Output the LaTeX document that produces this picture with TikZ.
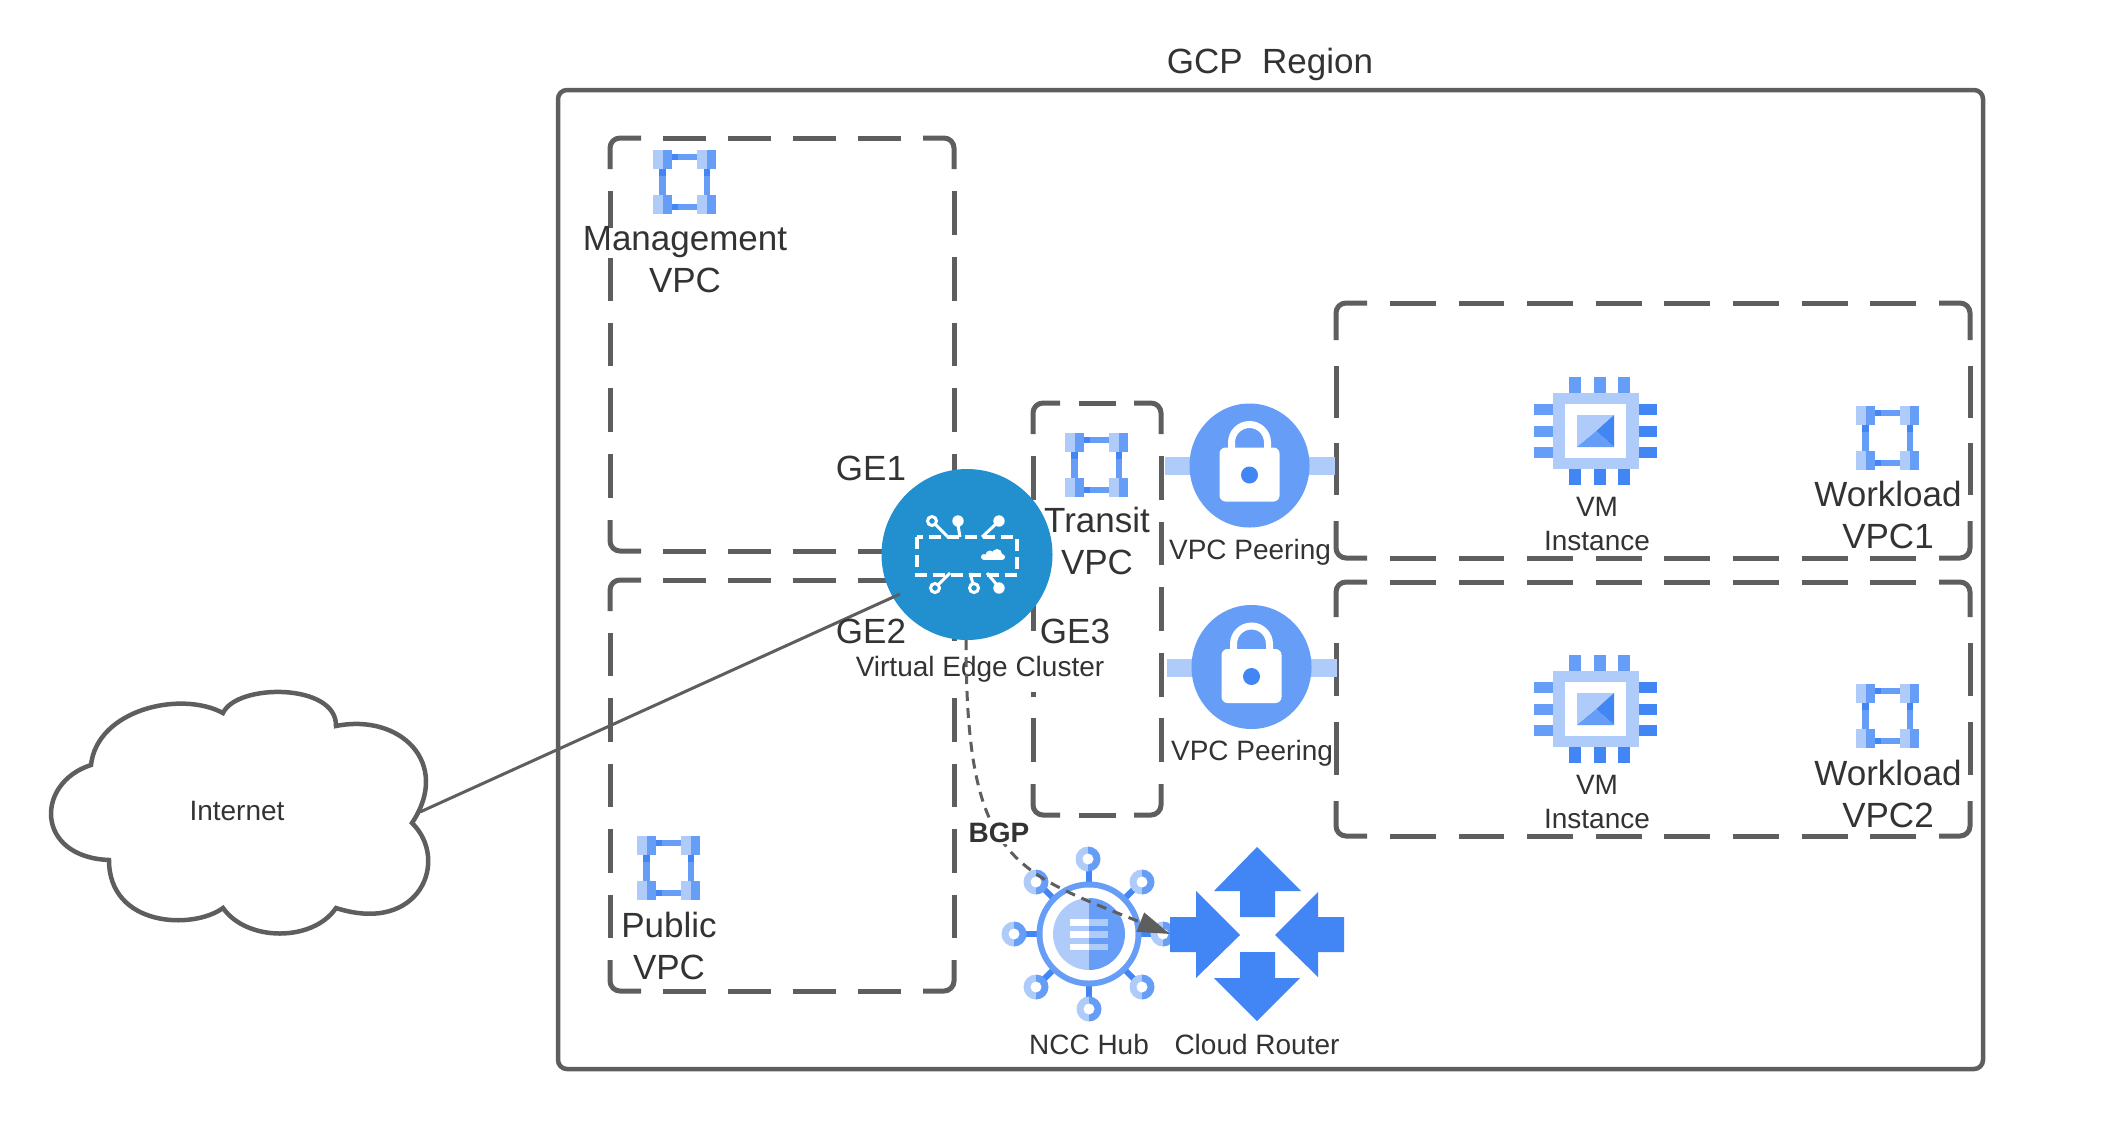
\documentclass[tikz,border=0pt]{standalone}
\usepackage{fontspec}
\setmainfont{Liberation Sans}
\usetikzlibrary{arrows.meta}
\definecolor{ln}{HTML}{5E5E5E}
\definecolor{tx}{HTML}{333333}
\definecolor{gl}{HTML}{AECBFA}
\definecolor{gm}{HTML}{669DF6}
\definecolor{gd}{HTML}{4285F4}
\definecolor{clu}{HTML}{228FCF}
\tikzset{
  x=1pt,y=-1pt,
  bline/.style={draw=ln,line width=5pt,line cap=butt},
  big/.style={text=tx,align=center,inner sep=0pt,font=\fontsize{35}{42}\selectfont},
  small/.style={text=tx,align=center,inner sep=0pt,font=\fontsize{28}{34}\selectfont},
  pics/vpcicon/.style={code={
    \fill[gm] (-19,-28) rectangle (19,-22);
    \fill[gm] (-19,22) rectangle (19,28);
    \fill[gm] (-26,-13) rectangle (-19,13);
    \fill[gm] (19,-13) rectangle (25,13);
    \fill[gd] (-13,-28) rectangle (-7,-22);
    \fill[gd] (-13,22) rectangle (-7,28);
    \fill[gd] (-26,-13) rectangle (-19,-6);
    \fill[gd] (19,-13) rectangle (25,-6);
    \foreach \px/\py in {-32/-32,12/-32,-32/13,12/13}{
      \fill[gl] (\px,\py) rectangle ++(10,19);
      \fill[gm] (\px+10,\py) rectangle ++(9,19);
    }
  }},
  pics/vmicon/.style={code={
    \foreach \px in {-27,-2,22}{
      \fill[gm] (\px,-54) rectangle ++(12,16);
      \fill[gd] (\px,38) rectangle ++(12,16);
    }
    \foreach \py in {-27,-5,16}{
      \fill[gm] (-62,\py) rectangle ++(19,11);
      \fill[gd] (43,\py) rectangle ++(18,11);
    }
    \fill[gl] (-43,-38) rectangle (43,38);
    \fill[white] (-31,-27) rectangle (30,27);
    \fill[gl] (-19,-16) -- (18,-16) -- (-19,16) -- cycle;
    \fill[gd] (18,-16) -- (18,16) -- (0,0) -- cycle;
    \fill[gm] (-19,16) -- (18,16) -- (0,0) -- cycle;
  }},
  pics/lockicon/.style={code={
    \fill[gl] (-85,-8.5) rectangle (-40,9.5);
    \fill[gl] (40,-8.5) rectangle (85.5,9.5);
    \fill[gm] (0,0) ellipse[x radius=60,y radius=62];
    \draw[white,line width=7pt] (-18,-16) -- (-18,-23) .. controls (-18,-33) and (-10,-41) .. (0,-41) .. controls (10,-41) and (18,-33) .. (18,-23) -- (18,-16);
    \fill[white,rounded corners=6pt] (-30,-18) rectangle (30,36);
    \fill[gd] (0,9.5) circle[radius=8.5];
  }},
  pics/sat/.style={code={
    \begin{scope}
      \clip (-14,-14) rectangle (0,14);
      \fill[gl] (0,0) circle[radius=12.5];
    \end{scope}
    \begin{scope}
      \clip (0,-14) rectangle (14,14);
      \fill[gm] (0,0) circle[radius=12.5];
    \end{scope}
    \fill[white] (0,0) circle[radius=5.5];
  }}
}
% x0,y0,x1,y1, corner run along x, dashes along x, corner run along y, dashes along y
\newcommand{\vpcbox}[8]{%
  \pgfmathsetmacro{\myhd}{(#3-#1-2*#5)/(1.5*#6+0.5)}%
  \pgfmathsetmacro{\myhg}{\myhd/2}%
  \pgfmathsetmacro{\myvd}{(#4-#2-2*#7)/(1.5*#8+0.5)}%
  \pgfmathsetmacro{\myvg}{\myvd/2}%
  \begin{scope}[rounded corners=10pt]
    \draw[bline] (#1,#2+#7) -- (#1,#2) -- (#1+#5,#2);
    \draw[bline] (#3-#5,#2) -- (#3,#2) -- (#3,#2+#7);
    \draw[bline] (#1,#4-#7) -- (#1,#4) -- (#1+#5,#4);
    \draw[bline] (#3-#5,#4) -- (#3,#4) -- (#3,#4-#7);
  \end{scope}
  \draw[bline,dash pattern=on \myhd pt off \myhg pt] (#1+#5+\myhg,#2) -- (#3-#5-\myhg,#2);
  \draw[bline,dash pattern=on \myhd pt off \myhg pt] (#1+#5+\myhg,#4) -- (#3-#5-\myhg,#4);
  \draw[bline,dash pattern=on \myvd pt off \myvg pt] (#1,#2+#7+\myvg) -- (#1,#4-#7-\myvg);
  \draw[bline,dash pattern=on \myvd pt off \myvg pt] (#3,#2+#7+\myvg) -- (#3,#4-#7-\myvg);
}
\begin{document}
\begin{tikzpicture}
\path[use as bounding box,fill=white] (0,0) rectangle (2122,1128);

% boxes
\draw[ln,line width=4.5pt,rounded corners=9pt] (558,90) rectangle (1983,1069);
\vpcbox{610}{138}{954}{551}{31}{4}{31}{5}
\vpcbox{610}{580}{954}{991}{31}{4}{31}{5}
\vpcbox{1033}{403}{1161}{815}{27}{1}{31}{5}
\vpcbox{1336}{303}{1970}{558}{31}{8}{37}{2}
\vpcbox{1336}{582}{1970}{836}{31}{8}{35}{2}

% cloud
\draw[ln,line width=4.5pt,fill=white,line join=miter]
  (91,765) .. controls (97,710) and (180,690) .. (223,713)
  .. controls (237,683) and (337,683) .. (336,726)
  .. controls (400,713) and (452,763) .. (412,823)
  .. controls (450,860) and (420,935) .. (336,908)
  .. controls (313,942) and (247,942) .. (223,908)
  .. controls (193,930) and (109,927) .. (109,860)
  .. controls (35,857) and (35,783) .. (91,765) -- cycle;
\node[small] (internet) at (237,811) {Internet};
\coordinate (cloudport) at (420,812);

% cluster
\node[circle,fill=clu,minimum size=171pt,inner sep=0pt] (cluster) at (967,554.5) {};
\coordinate (clusterport) at (900,594);
\draw[ln,line width=3pt] (cloudport) -- (clusterport);

\begin{scope}[white,line width=3pt]
  \draw[line width=3.6pt,dash pattern=on 12pt off 6pt] (917,537) rectangle (1017,575);
  \draw (948,537) -- (934,523);
  \draw (960,537) -- (958,525);
  \draw (982,537) -- (997,523);
  \draw (950,573) -- (938,585);
  \draw (970,573) -- (973,584);
  \draw (987,573) -- (997,585);
  \draw[fill=clu] (932,521) circle[radius=4.5];
  \fill (958,521) circle[radius=5.7];
  \fill (999,521) circle[radius=5.7];
  \draw[fill=clu] (935,588) circle[radius=4.5];
  \draw[fill=clu] (974,588) circle[radius=4.5];
  \fill (999,588) circle[radius=5.7];
  \fill (984,557) circle[radius=3];
  \fill (990,555) circle[radius=4.5];
  \fill (997,554) circle[radius=5];
  \fill (1002,557) circle[radius=3];
  \fill (984,555) rectangle (1002,560);
\end{scope}

% vpc icons
\pic at (684.5,182) {vpcicon};
\pic at (1097,465) {vpcicon};
\pic at (1888,437.5) {vpcicon};
\pic at (1888,716) {vpcicon};
\pic at (669,867.5) {vpcicon};
% vm icons
\pic at (1596,431) {vmicon};
\pic at (1596,709) {vmicon};
% lock icons
\pic at (1249.5,465.5) {lockicon};
\pic at (1251.5,667) {lockicon};

% hub
\foreach \ang in {0,45,...,315}{
  \draw[gd,line width=6pt] (1089,934) -- ++(\ang:66);
}
\fill[gm] (1089,934) circle[radius=52.5];
\fill[white] (1089,934) circle[radius=46.5];
\begin{scope}
  \clip (1053,898) rectangle (1089,970);
  \fill[gl] (1089,934) circle[radius=36];
\end{scope}
\begin{scope}
  \clip (1089,898) rectangle (1125,970);
  \fill[gm] (1089,934) circle[radius=36];
\end{scope}
\fill[white] (1070,919) rectangle (1089,926);
\fill[white] (1070,931) rectangle (1089,938);
\fill[white] (1070,944) rectangle (1089,950);
\fill[gl] (1089,919) rectangle (1108,926);
\fill[gl] (1089,931) rectangle (1108,938);
\fill[gl] (1089,944) rectangle (1108,950);
\pic at (1088,859) {sat};
\pic at (1036,882) {sat};
\pic at (1142,882) {sat};
\pic at (1014,934) {sat};
\pic at (1163,934) {sat};
\pic at (1036,987) {sat};
\pic at (1142,987) {sat};
\pic at (1089,1009) {sat};

% router
\fill[gd] (1257,847) -- (1301,891) -- (1275,891) -- (1275,917) -- (1240,917) -- (1240,891) -- (1214,891) -- cycle;
\fill[gd] (1257,1021) -- (1300,978) -- (1275,978) -- (1275,952) -- (1240,952) -- (1240,978) -- (1214,978) -- cycle;
\fill[gd] (1240,935) -- (1196,891) -- (1196,917) -- (1170,917) -- (1170,952) -- (1196,952) -- (1196,978) -- cycle;
\fill[gd] (1275,935) -- (1318,892) -- (1318,917) -- (1344,917) -- (1344,952) -- (1318,952) -- (1318,977) -- cycle;

% labels that hide the lines behind them
\fill[white] (582,228) rectangle (788,258);
\fill[white] (855,641) rectangle (1105,692);
\node[small] (edge) at (980,669) {Virtual Edge Cluster};

% BGP connector
\coordinate (hubtip) at (1170,934);
\coordinate (clusterbottom) at (966,640);
\draw[ln,line width=3pt,dash pattern=on 10pt off 7pt,-{Triangle[length=32pt,width=20pt]}]
  (clusterbottom) .. controls (966,860) and (1010,870) .. (hubtip);
\node[small,fill=white,inner sep=1pt,font=\fontsize{28}{34}\selectfont\bfseries] (bgp) at (999,833) {BGP};

% labels
\node[big] (region) at (1270,64) {GCP\ \ Region};
\node[big] (mgmt) at (685,260) {Management\\VPC};
\node[big] (transit) at (1097,541) {Transit\\VPC};
\node[big] (wl1) at (1888,515) {Workload\\VPC1};
\node[big] (wl2) at (1888,794) {Workload\\VPC2};
\node[big] (public) at (669,946) {Public\\VPC};
\node[big] (ge1) at (871,468) {GE1};
\node[big] (ge2) at (871,631) {GE2};
\node[big] (ge3) at (1075,631) {GE3};
\node[small] (peer1) at (1250,552) {VPC Peering};
\node[small] (peer2) at (1252,753) {VPC Peering};
\node[small] (vm1) at (1597,523.5) {VM\\Instance};
\node[small] (vm2) at (1597,801.5) {VM\\Instance};
\node[small] (ncc) at (1089,1044) {NCC Hub};
\node[small] (router) at (1257,1044) {Cloud Router};
\end{tikzpicture}
\end{document}
